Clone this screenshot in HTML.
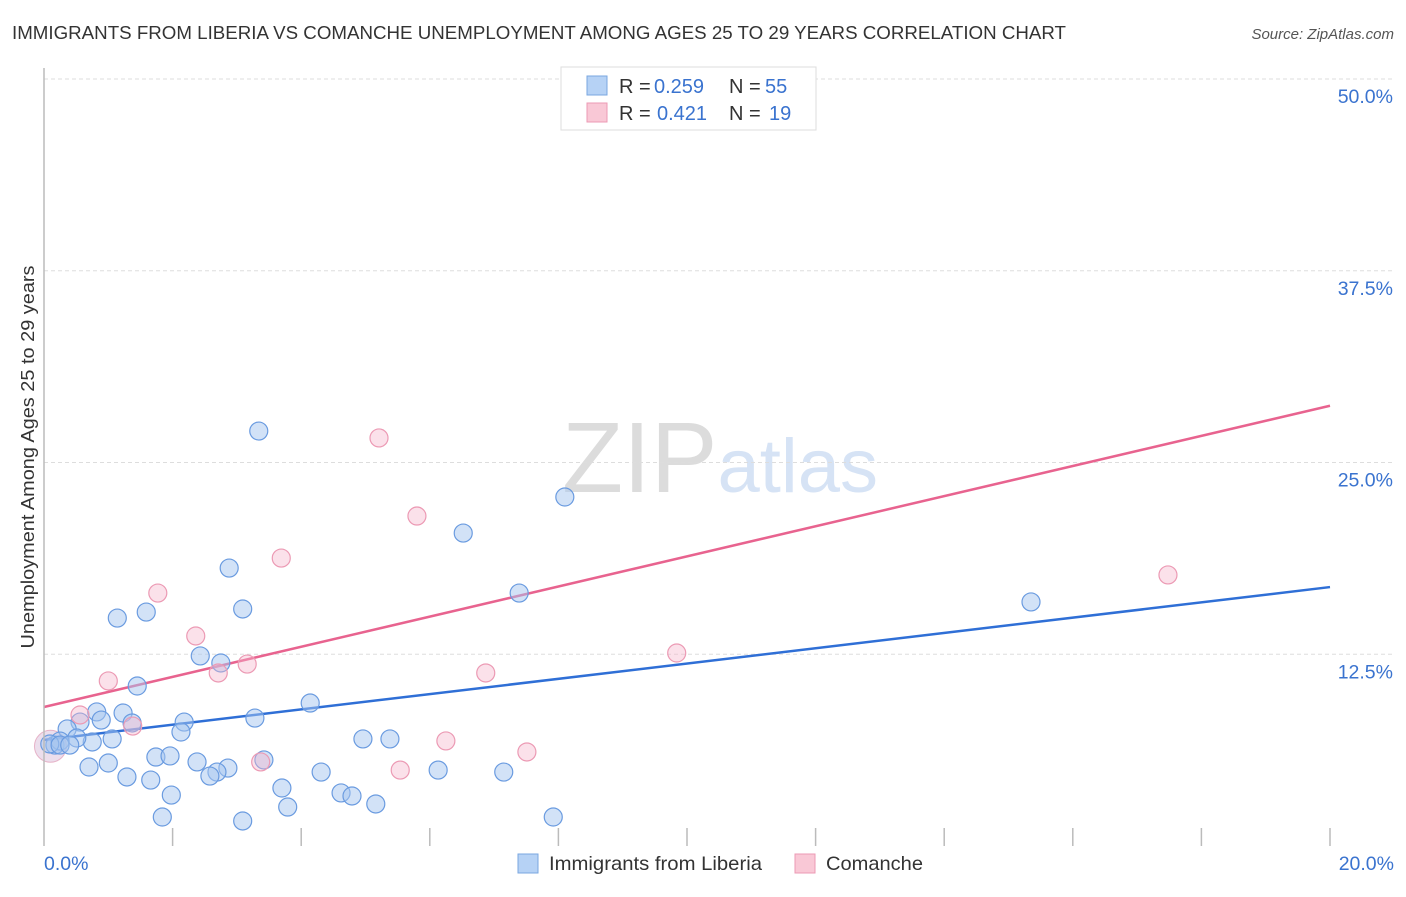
<!DOCTYPE html>
<html><head><meta charset="utf-8"><style>
body{margin:0;background:#fff;font-family:"Liberation Sans",sans-serif;}
svg text{font-family:"Liberation Sans",sans-serif;}
</style></head><body>
<svg id="chart" width="1406" height="892" xmlns="http://www.w3.org/2000/svg">
<text x="12" y="39" font-size="18" fill="#333" textLength="1054" lengthAdjust="spacingAndGlyphs">IMMIGRANTS FROM LIBERIA VS COMANCHE UNEMPLOYMENT AMONG AGES 25 TO 29 YEARS CORRELATION CHART</text>
<text x="1394" y="39" font-size="15" fill="#555" text-anchor="end" font-style="italic">Source: ZipAtlas.com</text>
<text x="720" y="492" font-size="100" text-anchor="middle" fill="#e4e4e4" font-family="Liberation Serif"><tspan fill="#dcdcdc">ZIP</tspan><tspan fill="#d6e3f5" font-family="Liberation Sans" font-size="76">atlas</tspan></text>
<text transform="translate(34,457) rotate(-90)" font-size="18" fill="#333" text-anchor="middle" textLength="383" lengthAdjust="spacingAndGlyphs">Unemployment Among Ages 25 to 29 years</text>
<g id="grid"></g><g id="ticks"></g><g id="lines"></g><g id="pts"></g>
<line x1="44" y1="68" x2="44" y2="846" stroke="#bbb" stroke-width="1.5"/>
<g>
<rect x="561" y="67" width="255" height="63" fill="#fff" stroke="#ddd"/>
<rect x="587" y="76" width="20" height="19" fill="#b6d2f5" stroke="#7aa7e0"/>
<text y="93" font-size="20" fill="#333"><tspan x="619">R =</tspan><tspan x="654" fill="#3a73cf">0.259</tspan><tspan x="729">N =</tspan><tspan x="765" fill="#3a73cf">55</tspan></text>
<rect x="587" y="103" width="20" height="19" fill="#f9c8d6" stroke="#ec9ab4"/>
<text y="120" font-size="20" fill="#333"><tspan x="619">R =</tspan><tspan x="657" fill="#3a73cf">0.421</tspan><tspan x="729">N =</tspan><tspan x="769" fill="#3a73cf">19</tspan></text>
</g>
<g>
<rect x="518" y="854" width="20" height="19" fill="#b6d2f5" stroke="#7aa7e0"/>
<text x="549" y="870" font-size="19.5" fill="#333" textLength="213" lengthAdjust="spacingAndGlyphs">Immigrants from Liberia</text>
<rect x="795" y="854" width="20" height="19" fill="#f9c8d6" stroke="#ec9ab4"/>
<text x="826" y="870" font-size="19.5" fill="#333" textLength="97" lengthAdjust="spacingAndGlyphs">Comanche</text>
</g>
</svg>
<script>
const yTicks=[12.5,25,37.5,50];
const yTickLabels=["12.5%","25.0%","37.5%","50.0%"];
const xTicks=[2,4,6,8,10,12,14,16,18,20];
const xLabels=["0.0%","20.0%"];
const blueX=[3.34,8.10,6.52,2.88,7.39,15.35,3.09,1.14,1.59,2.43,2.75,1.45,4.14,0.82,1.23,0.56,0.89,2.18,1.37,2.13,3.28,0.36,1.06,0.75,0.51,0.17,0.25,0.09,4.96,5.38,1.74,1.96,3.42,2.38,1.00,0.70,2.86,2.69,2.58,1.29,1.66,4.31,6.13,7.15,3.70,4.62,4.79,1.98,3.79,5.16,1.84,3.09,7.92,0.25,0.40];
const blueY=[27.05,22.75,20.40,18.12,16.49,15.91,15.45,14.86,15.25,12.39,11.93,10.43,9.32,8.74,8.67,8.08,8.21,8.08,8.02,7.43,8.34,7.63,6.98,6.78,7.04,6.58,6.84,6.65,6.98,6.98,5.80,5.87,5.61,5.48,5.41,5.15,5.08,4.82,4.56,4.50,4.30,4.82,4.95,4.82,3.78,3.46,3.26,3.32,2.54,2.74,1.89,1.63,1.89,6.58,6.58];
const pinkX=[5.21,5.80,3.69,1.77,2.36,3.16,2.71,6.87,9.84,17.48,1.00,0.56,1.38,6.25,7.51,3.37,5.54,11.29];
const pinkY=[26.60,21.51,18.77,16.49,13.69,11.86,11.28,11.28,12.58,17.67,10.76,8.54,7.82,6.85,6.13,5.48,4.95,47.65];
const blueTrend=[6.91,16.88];
const pinkTrend=[9.06,28.7];
const NS="http://www.w3.org/2000/svg";
const sx=v=>44+v/20*1286, sy=v=>846-v/50*767;
function mk(tag,attrs,parent){const e=document.createElementNS(NS,tag);for(const k in attrs)e.setAttribute(k,attrs[k]);document.getElementById(parent).appendChild(e);return e;}
yTicks.forEach((t,i)=>{
 const l=mk('line',{x1:44,x2:1394,y1:sy(t),y2:sy(t),stroke:'#ddd','stroke-dasharray':'4,3'},'grid');
 
 
 const tx=mk('text',{x:1393,y:sy(t)+24,'font-size':19.5,fill:'#3a73cf','text-anchor':'end'},'grid');
 tx.textContent=yTickLabels[i];
 
 
});
xTicks.forEach(t=>{
 const l=mk('line',{x1:sx(t),x2:sx(t),y1:828,y2:846,stroke:'#bbb','stroke-width':1.5},'ticks');
 
 
});
[[0,44,'start'],[20,1394,'end']].forEach((d,i)=>{
 const tx=mk('text',{x:d[1],y:870,'font-size':19.5,fill:'#3a73cf','text-anchor':d[2]},'ticks');
 tx.textContent=xLabels[i];
 
 
});
const b1=mk('circle',{cx:sx(0.1),cy:sy(6.5),r:16,fill:'rgba(200,160,200,0.35)',stroke:'rgba(220,140,170,0.6)'},'pts');


blueX.forEach((x,i)=>{
 const c=mk('circle',{cx:sx(x),cy:sy(blueY[i]),r:9,fill:'rgba(165,198,240,0.5)',stroke:'#6a9be0','stroke-width':1.2},'pts');
 
 
});
pinkX.forEach((x,i)=>{
 const c=mk('circle',{cx:sx(x),cy:sy(pinkY[i]),r:9,fill:'rgba(246,180,202,0.4)',stroke:'#ec9ab4','stroke-width':1.2},'pts');
 
 
});
const bl=mk('line',{x1:sx(0),x2:sx(20),y1:sy(blueTrend[0]),y2:sy(blueTrend[1]),stroke:'#2f6fd6','stroke-width':2.5},'lines');


const pl=mk('line',{x1:sx(0),x2:sx(20),y1:sy(pinkTrend[0]),y2:sy(pinkTrend[1]),stroke:'#e8638f','stroke-width':2.5},'lines');


</script>
</body></html>
